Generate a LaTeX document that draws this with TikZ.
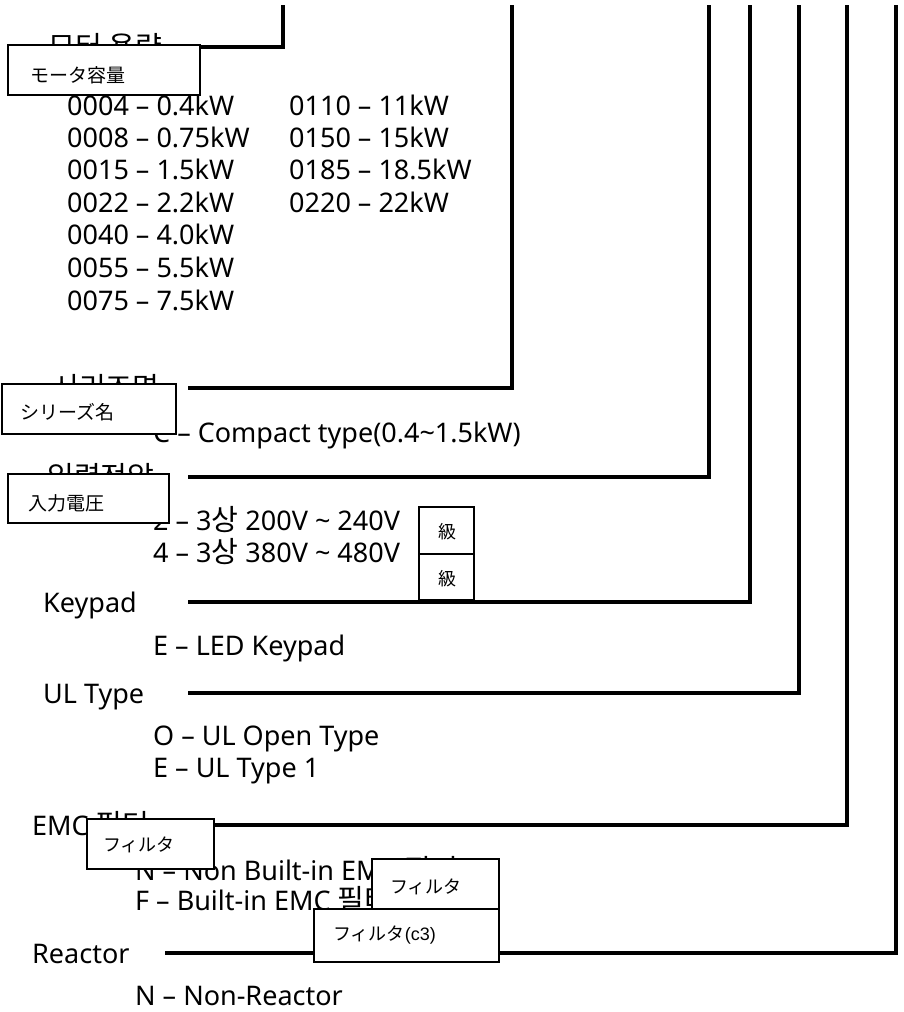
\documentclass[tikz,border=0pt]{standalone}
\usepackage{fontspec}
\setmainfont{Noto Sans}
\newfontfamily\krf[Scale=1.08]{Noto Sans CJK KR}
\newfontfamily\jpf{Noto Sans CJK JP}
\newfontfamily\arialf{Liberation Sans}
\begin{document}
\begin{tikzpicture}[x=1pt,y=-1pt,
  txt/.style={anchor=base west, inner sep=0pt, font=\fontsize{27}{32}\selectfont},
  conn/.style={line width=3.2pt, line join=miter},
  jbox/.style={draw=black, line width=1.8pt, fill=white, inner sep=0pt, anchor=north west},
  jtxt/.style={anchor=west, inner sep=0pt, font=\jpf\fontsize{19}{19}\selectfont},
  ktxt/.style={inner sep=0pt, font=\jpf\fontsize{18}{18}\selectfont}]
\useasboundingbox (0,0) rectangle (903,1012);

% headers
\node[txt] (h1) at (48,57) {\krf 모터 용량};
\node[txt] (h2) at (52,398) {\krf 시리즈명};
\node[txt] (h3) at (47,487) {\krf 입력전압};
\node[txt] (h4) at (43,612) {Keypad};
\node[txt] (h5) at (43,703) {UL Type};
\node[txt] (h6) at (32,835) {EMC {\krf 필터}};
\node[txt] (h7) at (32,963) {Reactor};

% motor capacity list
\node[txt] (m1) at (67,115) {0004 – 0.4kW};
\node[txt] (m2) at (67,147) {0008 – 0.75kW};
\node[txt] (m3) at (67,179) {0015 – 1.5kW};
\node[txt] (m4) at (67,212) {0022 – 2.2kW};
\node[txt] (m5) at (67,244) {0040 – 4.0kW};
\node[txt] (m6) at (67,277) {0055 – 5.5kW};
\node[txt] (m7) at (67,310) {0075 – 7.5kW};
\node[txt] (m8) at (289,115) {0110 – 11kW};
\node[txt] (m9) at (289,147) {0150 – 15kW};
\node[txt] (m10) at (289,179) {0185 – 18.5kW};
\node[txt] (m11) at (289,212) {0220 – 22kW};

% other items
\node[txt] (s1) at (153,442) {C – Compact type(0.4\textasciitilde1.5kW)};
\node[txt] (v1) at (153,530) {2 – 3{\krf 상} 200V \textasciitilde\ 240V};
\node[txt] (v2) at (153,562) {4 – 3{\krf 상} 380V \textasciitilde\ 480V};
\node[txt] (k1) at (153,655) {E – LED Keypad};
\node[txt] (u1) at (153,745) {O – UL Open Type};
\node[txt] (u2) at (153,777) {E – UL Type 1};
\node[txt] (e1) at (135,880) {N – Non Built-in EMC {\krf 필터}};
\node[txt] (e2) at (135,910) {F – Built-in EMC {\krf 필터}(C3)};
\node[txt] (r1) at (135,1005) {N – Non-Reactor};

% connector coordinates
\coordinate (a1) at (188,47);  \coordinate (c1) at (283,47);  \coordinate (t1) at (283,5);
\coordinate (a2) at (188,388); \coordinate (c2) at (512,388); \coordinate (t2) at (512,5);
\coordinate (a3) at (188,477); \coordinate (c3) at (709,477); \coordinate (t3) at (709,5);
\coordinate (a4) at (188,602); \coordinate (c4) at (750,602); \coordinate (t4) at (750,5);
\coordinate (a5) at (188,693); \coordinate (c5) at (799,693); \coordinate (t5) at (799,5);
\coordinate (a6) at (188,825); \coordinate (c6) at (847,825); \coordinate (t6) at (847,5);
\coordinate (a7) at (165,953); \coordinate (c7) at (896,953); \coordinate (t7) at (896,5);
\foreach \i in {1,...,7} { \draw[conn] (a\i) -- (c\i) -- (t\i); }

% translation boxes
\node[jbox, minimum width=192pt, minimum height=50pt] (b1) at (7,44) {};
\node[jtxt] (b1t) at (30,75) {モータ容量};
\node[jbox, minimum width=174pt, minimum height=50pt] (b2) at (1,383) {};
\node[jtxt] (b2t) at (20,412) {シリーズ名};
\node[jbox, minimum width=161pt, minimum height=49pt] (b3) at (7,473) {};
\node[jtxt] (b3t) at (28,503) {入力電圧};
\node[jbox, minimum width=55pt, minimum height=47pt] (b4) at (418,506) {};
\node[ktxt] (b4t) at (447,532) {級};
\node[jbox, minimum width=55pt, minimum height=46pt] (b5) at (418,553) {};
\node[ktxt] (b5t) at (447,579) {級};
\node[jbox, minimum width=127pt, minimum height=50pt] (b6) at (86,818) {};
\node[jtxt, font=\jpf\fontsize{18}{18}\selectfont] (b6t) at (103,845) {フィルタ};
\node[jbox, minimum width=127pt, minimum height=50pt] (b7) at (371,858) {};
\node[jtxt, font=\jpf\fontsize{18}{18}\selectfont] (b7t) at (390,887) {フィルタ};
\node[jbox, minimum width=185pt, minimum height=53pt] (b8) at (313,908) {};
\node[jtxt, font=\jpf\fontsize{18}{18}\selectfont] (b8t) at (333,935) {フィルタ{\arialf (c3)}};
\end{tikzpicture}
\end{document}
